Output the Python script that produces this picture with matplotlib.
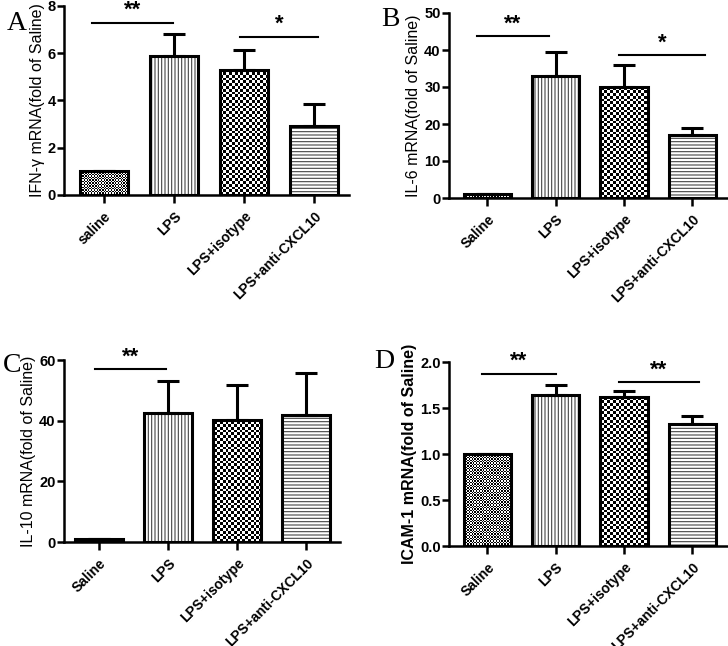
import numpy as np
import matplotlib
matplotlib.use("Agg")
import matplotlib.pyplot as plt

groups_a = ["saline", "LPS", "LPS+isotype", "LPS+anti-CXCL10"]
groups = ["Saline", "LPS", "LPS+isotype", "LPS+anti-CXCL10"]

ifn_mean = [1.0, 5.87, 5.3, 2.93]
ifn_err = [0.0, 0.93, 0.83, 0.94]

il6_mean = [1.0, 33.0, 30.0, 17.1]
il6_err = [0.0, 6.4, 6.0, 1.8]

il10_mean = [1.0, 42.6, 40.1, 42.0]
il10_err = [0.0, 10.4, 11.5, 13.7]

icam_mean = [1.0, 1.637, 1.62, 1.33]
icam_err = [0.0, 0.116, 0.06, 0.08]

plt.rcParams["font.family"] = ["Liberation Sans", "DejaVu Sans"]
plt.rcParams["hatch.linewidth"] = 0.8

W, H = 728, 646
fig = plt.figure(figsize=(W / 100, H / 100), dpi=100)


def px_axes(left, right, top, bottom):
    return fig.add_axes([left / W, 1 - bottom / H, (right - left) / W, (bottom - top) / H])


def checker(ax, bar, cell):
    # checkerboard fill clipped to the bar outline
    bbox = ax.get_window_extent()
    nx = int(bbox.width / cell) + 1
    ny = int(bbox.height / cell) + 1
    img = (np.indices((ny, nx)).sum(axis=0) % 2).astype(float)
    x0, x1 = ax.get_xlim()
    y0, y1 = ax.get_ylim()
    im = ax.imshow(img, cmap="gray", extent=(x0, x1, y0, y1), aspect="auto",
                   interpolation="nearest", zorder=1, origin="lower")
    im.set_clip_path(bar)
    ax.set_xlim(x0, x1)
    ax.set_ylim(y0, y1)


def panel(ax, labels, means, errs, ymax, ystep, xlim, ylabel, letter, letter_xy, sigs,
          label_bold=False):
    x = np.arange(len(labels))
    width = 0.69
    ax.set_xlim(*xlim)
    ax.set_ylim(0, ymax)
    ax.bar(x, means, width, facecolor="none", edgecolor="black", linewidth=2.2, zorder=3)
    # background fills
    fills = ax.bar(x, means, width, facecolor="white", edgecolor="#444444", linewidth=0, zorder=0)
    fills[1].set_hatch("|||||")
    fills[3].set_hatch("-----")
    checker(ax, fills[0], 1.4)
    checker(ax, fills[2], 2.8)
    ax.errorbar(x, means, yerr=[np.zeros(len(errs)), errs], fmt="none", ecolor="black",
                elinewidth=2.2, capsize=8, capthick=2.2, zorder=2)
    ax.spines["top"].set_visible(False)
    ax.spines["right"].set_visible(False)
    ax.spines["left"].set_linewidth(1.8)
    ax.spines["bottom"].set_linewidth(1.8)
    ticks = np.arange(0, ymax + ystep / 2, ystep)
    ax.set_yticks(ticks)
    if ystep < 1:
        ax.set_yticklabels([f"{v:.1f}" for v in ticks])
    else:
        ax.set_yticklabels([f"{v:.0f}" for v in ticks])
    ax.tick_params(axis="y", direction="out", length=5, width=1.8, labelsize=10.5, pad=1)
    ax.tick_params(axis="x", direction="out", length=6, width=1.8, pad=4)
    for t in ax.get_yticklabels():
        t.set_fontweight("bold")
    ax.set_xticks(x)
    ax.set_xticklabels(labels, rotation=45, ha="right", rotation_mode="anchor",
                       fontsize=10, fontweight="bold")
    ax.set_ylabel(ylabel, fontsize=11.5, labelpad=2,
                  fontweight="bold" if label_bold else "normal")
    ax.patch.set_visible(False)
    for x0, x1, y, star in sigs:
        ax.plot([x0, x1], [y, y], color="black", lw=1.5, clip_on=False)
        ax.text((x0 + x1) / 2, y + ymax * 0.01, star, ha="center", va="bottom",
                fontsize=16, fontweight="bold", clip_on=False)
    fig.text(letter_xy[0] / W, 1 - letter_xy[1] / H, letter, family="Liberation Serif",
             fontsize=20, ha="left", va="center")


ax_a = px_axes(64, 349, 6, 195)
panel(ax_a, groups_a, ifn_mean, ifn_err, 8, 2, (-0.571, 3.5),
      "IFN-γ mRNA(fold of Saline)", "A", (7, 23),
      [(-0.17, 0.99, 7.28, "**"), (1.94, 3.06, 6.7, "*")])

ax_b = px_axes(449, 727, 13, 198)
panel(ax_b, groups, il6_mean, il6_err, 50, 10, (-0.564, 3.51),
      "IL-6 mRNA(fold of Saline)", "B", (381, 19),
      [(-0.15, 0.9, 43.7, "**"), (1.93, 3.19, 38.6, "*")])

ax_c = px_axes(64, 340, 360, 542)
panel(ax_c, groups, il10_mean, il10_err, 60, 20, (-0.507, 3.49),
      "IL-10 mRNA(fold of Saline)", "C", (3, 366),
      [(-0.06, 0.97, 56.9, "**")])

ax_d = px_axes(449, 727, 362, 546)
panel(ax_d, groups, icam_mean, icam_err, 2.0, 0.5, (-0.564, 3.51),
      "ICAM-1 mRNA(fold of Saline)", "D", (374, 361),
      [(-0.08, 1.0, 1.873, "**"), (1.93, 3.1, 1.78, "**")], label_bold=True)

fig.savefig("out.png", dpi=100)
